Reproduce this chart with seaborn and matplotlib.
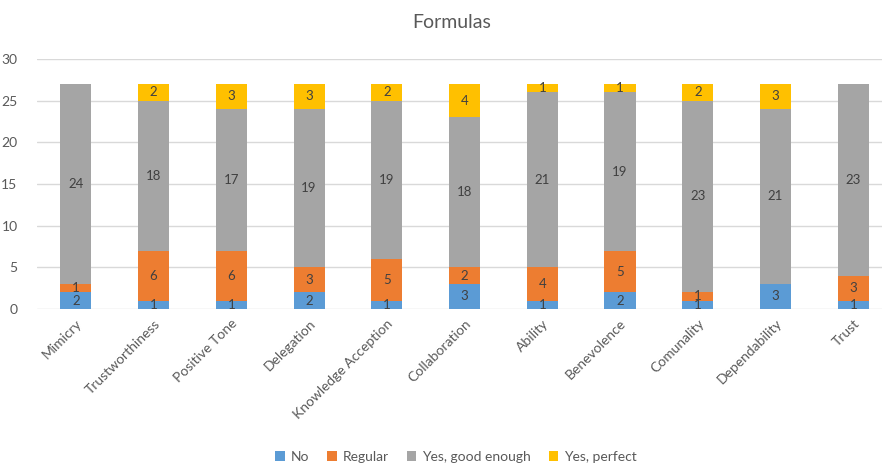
import matplotlib
matplotlib.use("Agg")
import matplotlib.pyplot as plt
import seaborn as sns
import numpy as np
from matplotlib.patches import Patch

categories = ["Mimicry", "Trustworthiness", "Positive Tone", "Delegation",
              "Knowledge Acception", "Collaboration", "Ability", "Benevolence",
              "Comunality", "Dependability", "Trust"]
no_vals = [2, 1, 1, 2, 1, 3, 1, 2, 1, 3, 1]
regular_vals = [1, 6, 6, 3, 5, 2, 4, 5, 1, 0, 3]
good_vals = [24, 18, 17, 19, 19, 18, 21, 19, 23, 21, 23]
perfect_vals = [0, 2, 3, 3, 2, 4, 1, 1, 2, 3, 0]
series_names = ["No", "Regular", "Yes, good enough", "Yes, perfect"]
colors = ["#5B9BD5", "#ED7D31", "#A5A5A5", "#FFC000"]

sns.set_theme(style="white")
plt.rcParams["font.family"] = ["Lato", "DejaVu Sans"]

fig = plt.figure(figsize=(8.82, 4.69), dpi=100)
ax = fig.add_axes([37/882, 160/469, 845/882, 250/469])

series = [no_vals, regular_vals, good_vals, perfect_vals]
cums = np.cumsum(np.array(series), axis=0)

# draw from top-most cumulative down so lower segments overlay
for i in range(len(series) - 1, -1, -1):
    sns.barplot(x=categories, y=cums[i], color=colors[i], saturation=1,
                width=0.4, ax=ax, zorder=3, linewidth=0, edgecolor="none")

# segment labels
for i, vals in enumerate(series):
    for j, v in enumerate(vals):
        if v == 0:
            continue
        base = cums[i][j] - v
        ax.text(j, base + v / 2, str(v), ha="center", va="center",
                fontsize=9.5, color="#404040", zorder=5)

ax.set_ylim(0, 30)
ax.set_xlim(-0.5, 10.37)
ax.set_yticks(range(0, 31, 5))
ax.yaxis.grid(True, color="#D9D9D9", linewidth=1, zorder=0)
ax.set_axisbelow(True)
for s in ax.spines.values():
    s.set_visible(False)
ax.tick_params(axis="both", length=0, colors="#595959", labelsize=10)
ax.tick_params(axis="y", pad=14)
ax.tick_params(axis="x", pad=6)
plt.setp(ax.get_xticklabels(), rotation=45, ha="right", rotation_mode="anchor")
ax.set_xlabel("")
ax.set_ylabel("")

fig.text(452/882, 1 - 22/469, "Formulas", ha="center", va="center",
         fontsize=14, color="#595959")

handles = [Patch(facecolor=c, edgecolor="none", label=n) for c, n in zip(colors, series_names)]
fig.legend(handles=handles, loc="center", bbox_to_anchor=(456/882, 1 - 457/469),
           ncol=4, frameon=False, fontsize=10, handlelength=0.7, handleheight=0.7,
           columnspacing=1.3, handletextpad=0.4, labelcolor="#595959")

fig.savefig("out.png", dpi=100)
